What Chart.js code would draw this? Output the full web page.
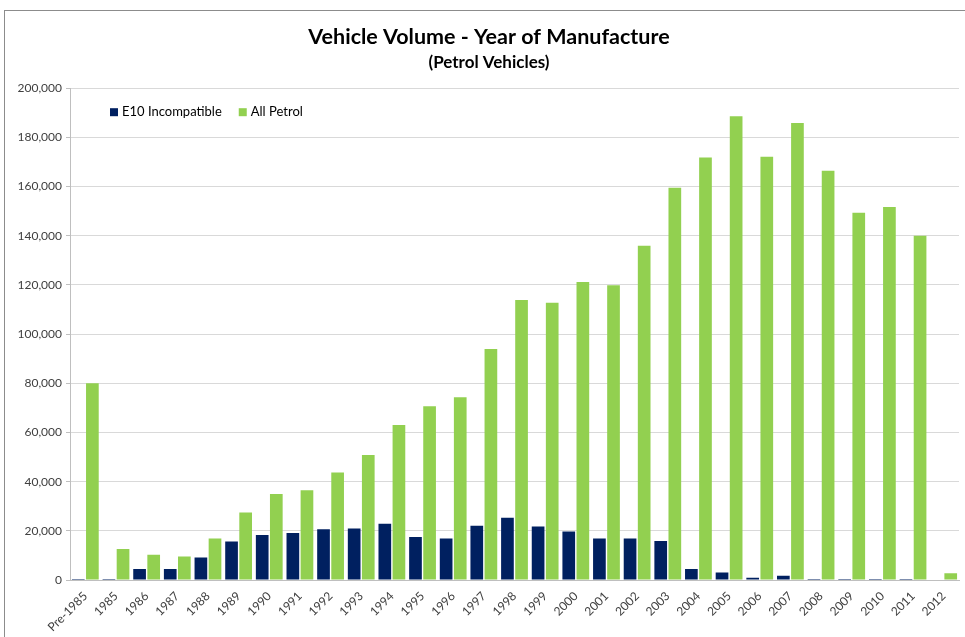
<!DOCTYPE html>
<html>
<head>
<meta charset="utf-8">
<title>Vehicle Volume - Year of Manufacture</title>
<script src="https://cdn.jsdelivr.net/npm/chart.js@4.4.1/dist/chart.umd.min.js"></script>
<style>
  html, body { margin: 0; padding: 0; background: #fff; overflow: hidden; }
  #frame {
    position: absolute; left: 4px; top: 10px; width: 990px; height: 640px;
    border-left: 1px solid #8c8c8c; border-top: 1px solid #8c8c8c;
  }
  #myChart { position: absolute; left: 0; top: 0; }
</style>
</head>
<body>
<div id="frame">
  <canvas id="myChart" width="968" height="627"></canvas>
</div>
<script>
// year of manufacture
var years = ['Pre-1985', '1985', '1986', '1987', '1988', '1989', '1990', '1991', '1992',
  '1993', '1994', '1995', '1996', '1997', '1998', '1999', '2000', '2001', '2002', '2003',
  '2004', '2005', '2006', '2007', '2008', '2009', '2010', '2011', '2012'];

var e10Incompatible = [400, 400, 4500, 4500, 9200, 15700, 18300, 19100, 20600,
  20900, 22900, 17500, 16900, 22100, 25300, 21800, 19700, 16900, 16900, 15900,
  4500, 3100, 900, 1750, 400, 400, 400, 400, 0];

var allPetrol = [80000, 12600, 10300, 9600, 16900, 27500, 35000, 36500, 43700,
  50800, 63000, 70700, 74300, 93900, 113900, 112700, 121200, 119900, 135900, 159500,
  171800, 188600, 172100, 185800, 166400, 149400, 151700, 140000, 2700];

var yTicks = [0, 20000, 40000, 60000, 80000, 100000, 120000, 140000, 160000, 180000, 200000];

var fontFamily = 'Lato, "Noto Sans", sans-serif';

// the picture was cropped on the right, so titles sit a little right of the canvas centre
const titleShift = {
  id: 'titleShift',
  afterLayout(chart) {
    chart.boxes.forEach(function(b) {
      if (b !== chart.legend && b.options && typeof b.options.text === 'string') {
        b.left += 7; b.right += 7;
      }
    });
  }
};

// Excel style legend, inside the plot at the top left
const insideLegend = {
  id: 'insideLegend',
  afterDraw(chart) {
    var c = chart.ctx, area = chart.chartArea;
    var x = area.left + 40, y = area.top + 24;
    c.save();
    c.font = '13px ' + fontFamily;
    c.textBaseline = 'middle';
    chart.data.datasets.forEach(function(ds) {
      c.fillStyle = ds.backgroundColor;
      c.fillRect(x, y - 4, 8, 8);
      c.fillStyle = '#000';
      c.fillText(ds.label, x + 12, y);
      x += 12 + c.measureText(ds.label).width + 17;
    });
    c.restore();
  }
};

var ctx = document.getElementById('myChart');
var myChart = new Chart(ctx, {
  type: 'bar',
  data: {
    labels: years,
    datasets: [
      {
        label: 'E10 Incompatible',
        data: e10Incompatible,
        backgroundColor: '#002060'
      },
      {
        label: 'All Petrol',
        data: allPetrol,
        backgroundColor: '#92d050'
      }
    ]
  },
  options: {
    responsive: false,
    animation: false,
    layout: { padding: { left: 0, right: 14, top: 0, bottom: 0 } },
    datasets: {
      bar: { categoryPercentage: 0.92, barPercentage: 0.9 }
    },
    plugins: {
      title: {
        display: true,
        text: 'Vehicle Volume - Year of Manufacture',
        color: '#000',
        font: { family: fontFamily, size: 21.5, weight: 'bold' },
        padding: { top: 13, bottom: 0 }
      },
      subtitle: {
        display: true,
        text: '(Petrol Vehicles)',
        color: '#000',
        font: { family: fontFamily, size: 17, weight: 'bold' },
        padding: { top: 3, bottom: 15 }
      },
      legend: { display: false },
      tooltip: { enabled: false }
    },
    scales: {
      x: {
        grid: { display: false, drawTicks: false },
        border: { color: '#bfbfbf' },
        ticks: {
          minRotation: 45,
          maxRotation: 45,
          autoSkip: false,
          padding: 9,
          color: '#404040',
          font: { family: fontFamily, size: 12 }
        },
        afterFit: function(scale) { scale.height = 58; }
      },
      y: {
        min: 0,
        max: 200000,
        afterBuildTicks: function(scale) {
          scale.ticks = yTicks.map(function(v) { return { value: v }; });
        },
        grid: { color: '#d9d9d9', tickLength: 4, tickColor: '#bfbfbf' },
        border: { color: '#bfbfbf' },
        ticks: {
          padding: 4,
          color: '#404040',
          font: { family: fontFamily, size: 12 },
          callback: function(v) { return v.toLocaleString('en-US'); }
        },
        afterFit: function(scale) { scale.width = 65; }
      }
    }
  },
  plugins: [titleShift, insideLegend]
});
</script>
</body>
</html>
